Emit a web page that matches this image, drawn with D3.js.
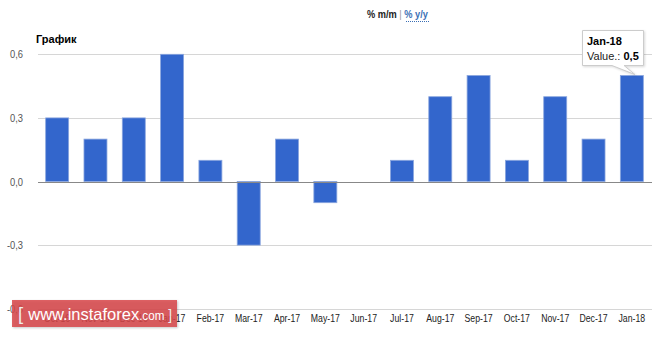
<!DOCTYPE html>
<html>
<head>
<meta charset="utf-8">
<script src="https://cdn.jsdelivr.net/npm/d3@7"></script>
<style>
  html, body { margin: 0; padding: 0; background: #fff; }
  svg { display: block; font-family: Arial, "Liberation Sans", sans-serif; }
</style>
</head>
<body>
<svg id="chart" width="665" height="337"></svg>
<script>
// Monthly change, % m/m
const months = ["Oct-16", "Nov-16", "Dec-16", "Jan-17", "Feb-17", "Mar-17", "Apr-17", "May-17",
                "Jun-17", "Jul-17", "Aug-17", "Sep-17", "Oct-17", "Nov-17", "Dec-17", "Jan-18"];
const values = [0.3, 0.2, 0.3, 0.6, 0.1, -0.3, 0.2, -0.1, 0.0, 0.1, 0.4, 0.5, 0.1, 0.4, 0.2, 0.5];
const yTicks = [-0.6, -0.3, 0.0, 0.3, 0.6];
const tooltipIndex = 15;

const svg = d3.select("#chart");
const plot = { left: 38, right: 651, top: 54.3, bottom: 308.7 };
const fmt = v => d3.format(".1f")(v).replace(".", ",").replace("−", "-");

// Squeeze a text element horizontally to a fraction of its natural width
function narrow(sel, k) {
  sel.each(function () {
    const w = this.getComputedTextLength();
    d3.select(this).attr("textLength", w * k).attr("lengthAdjust", "spacingAndGlyphs");
  });
}

const x = d3.scaleBand().domain(months).range([plot.left, plot.right])
  .paddingInner(0.4).paddingOuter(0.2);
const y = d3.scaleLinear().domain([-0.6, 0.6]).range([plot.bottom, plot.top]);

// Horizontal grid lines
svg.append("g").selectAll("line").data(yTicks).join("line")
  .attr("x1", plot.left).attr("x2", plot.right + 1)
  .attr("y1", d => Math.round(y(d)) + 0.5).attr("y2", d => Math.round(y(d)) + 0.5)
  .attr("stroke", "#d6d6d6").attr("stroke-width", 1);

// Y tick labels
svg.append("g").selectAll("text").data(yTicks).join("text")
  .attr("x", 23).attr("y", d => y(d) + 4)
  .attr("text-anchor", "end").attr("font-size", 11).attr("fill", "#555")
  .text(d => fmt(d))
  .call(narrow, 0.85);

// Bars
svg.append("g").selectAll("rect").data(values).join("rect")
  .attr("x", (d, i) => x(months[i]))
  .attr("width", x.bandwidth())
  .attr("y", d => y(Math.max(0, d)))
  .attr("height", d => Math.abs(y(d) - y(0)))
  .attr("fill", "#3366cc")
  .attr("stroke", "#8aa6de").attr("stroke-width", 0.8);

// Zero baseline
svg.append("line")
  .attr("x1", plot.left).attr("x2", plot.right + 1)
  .attr("y1", Math.round(y(0)) + 0.5).attr("y2", Math.round(y(0)) + 0.5)
  .attr("stroke", "#888").attr("stroke-width", 1);

// X axis labels
svg.append("g").selectAll("text").data(months).join("text")
  .attr("x", d => x(d) + x.bandwidth() / 2).attr("y", 322)
  .attr("text-anchor", "middle").attr("font-size", 10.5).attr("fill", "#222")
  .text(d => d)
  .call(narrow, 0.83);

// Chart title
svg.append("text").attr("x", 36).attr("y", 43)
  .attr("font-size", 11).attr("font-weight", "bold").attr("fill", "#000")
  .text("График");

// Switch header
const hdr = svg.append("text").attr("x", 367).attr("y", 18).attr("font-size", 11);
hdr.append("tspan").attr("font-weight", "bold").attr("fill", "#222").text("% m/m");
hdr.append("tspan").attr("fill", "#999").text(" | ");
hdr.append("tspan").attr("font-weight", "bold").attr("fill", "#3a6fb5").text("% y/y");
hdr.call(narrow, 0.84);
svg.append("line").attr("x1", 406).attr("x2", 429).attr("y1", 21.5).attr("y2", 21.5)
  .attr("stroke", "#3a6fb5").attr("stroke-dasharray", "1,1");

// Tooltip for the last bar
const tm = months[tooltipIndex], tv = values[tooltipIndex];
const bx = x(tm) + x.bandwidth() / 2, by = y(tv);
const tip = svg.append("g");
tip.append("path")
  .attr("d", `M${582.5},${30.5} H${643.5} V${65.5} H${624} L${bx + 3},${by - 1} L${612},${65.5} H${582.5} Z`)
  .attr("fill", "#fff").attr("stroke", "#ccc").attr("stroke-width", 1)
  .style("filter", "drop-shadow(1px 1px 1px rgba(0,0,0,0.15))");
tip.append("text").attr("x", 587).attr("y", 45).attr("font-size", 11)
  .attr("font-weight", "bold").attr("fill", "#000").text(tm);
const tv2 = tip.append("text").attr("x", 587).attr("y", 60).attr("font-size", 11).attr("fill", "#222");
tv2.append("tspan").text("Value.: ");
tv2.append("tspan").attr("font-weight", "bold").attr("fill", "#000").text(fmt(tv));

// Watermark badge
const wm = svg.append("g");
wm.append("rect").attr("x", 12).attr("y", 300).attr("width", 165).attr("height", 27)
  .attr("fill", "#d9474a").attr("fill-opacity", 0.85)
  .style("filter", "drop-shadow(1px 1px 1px rgba(0,0,0,0.25))");
const wt = wm.append("text").attr("x", 18).attr("y", 320).attr("fill", "#fff");
wt.append("tspan").attr("font-size", 19).attr("fill", "#eee").attr("font-weight", "300").text("[ ");
wt.append("tspan").attr("font-size", 17).text("www.instaforex");
wt.append("tspan").attr("font-size", 12).text(".com");
wt.append("tspan").attr("font-size", 14).attr("fill", "#eee").text(" ]");
wt.call(narrow, 0.97);
</script>
</body>
</html>
